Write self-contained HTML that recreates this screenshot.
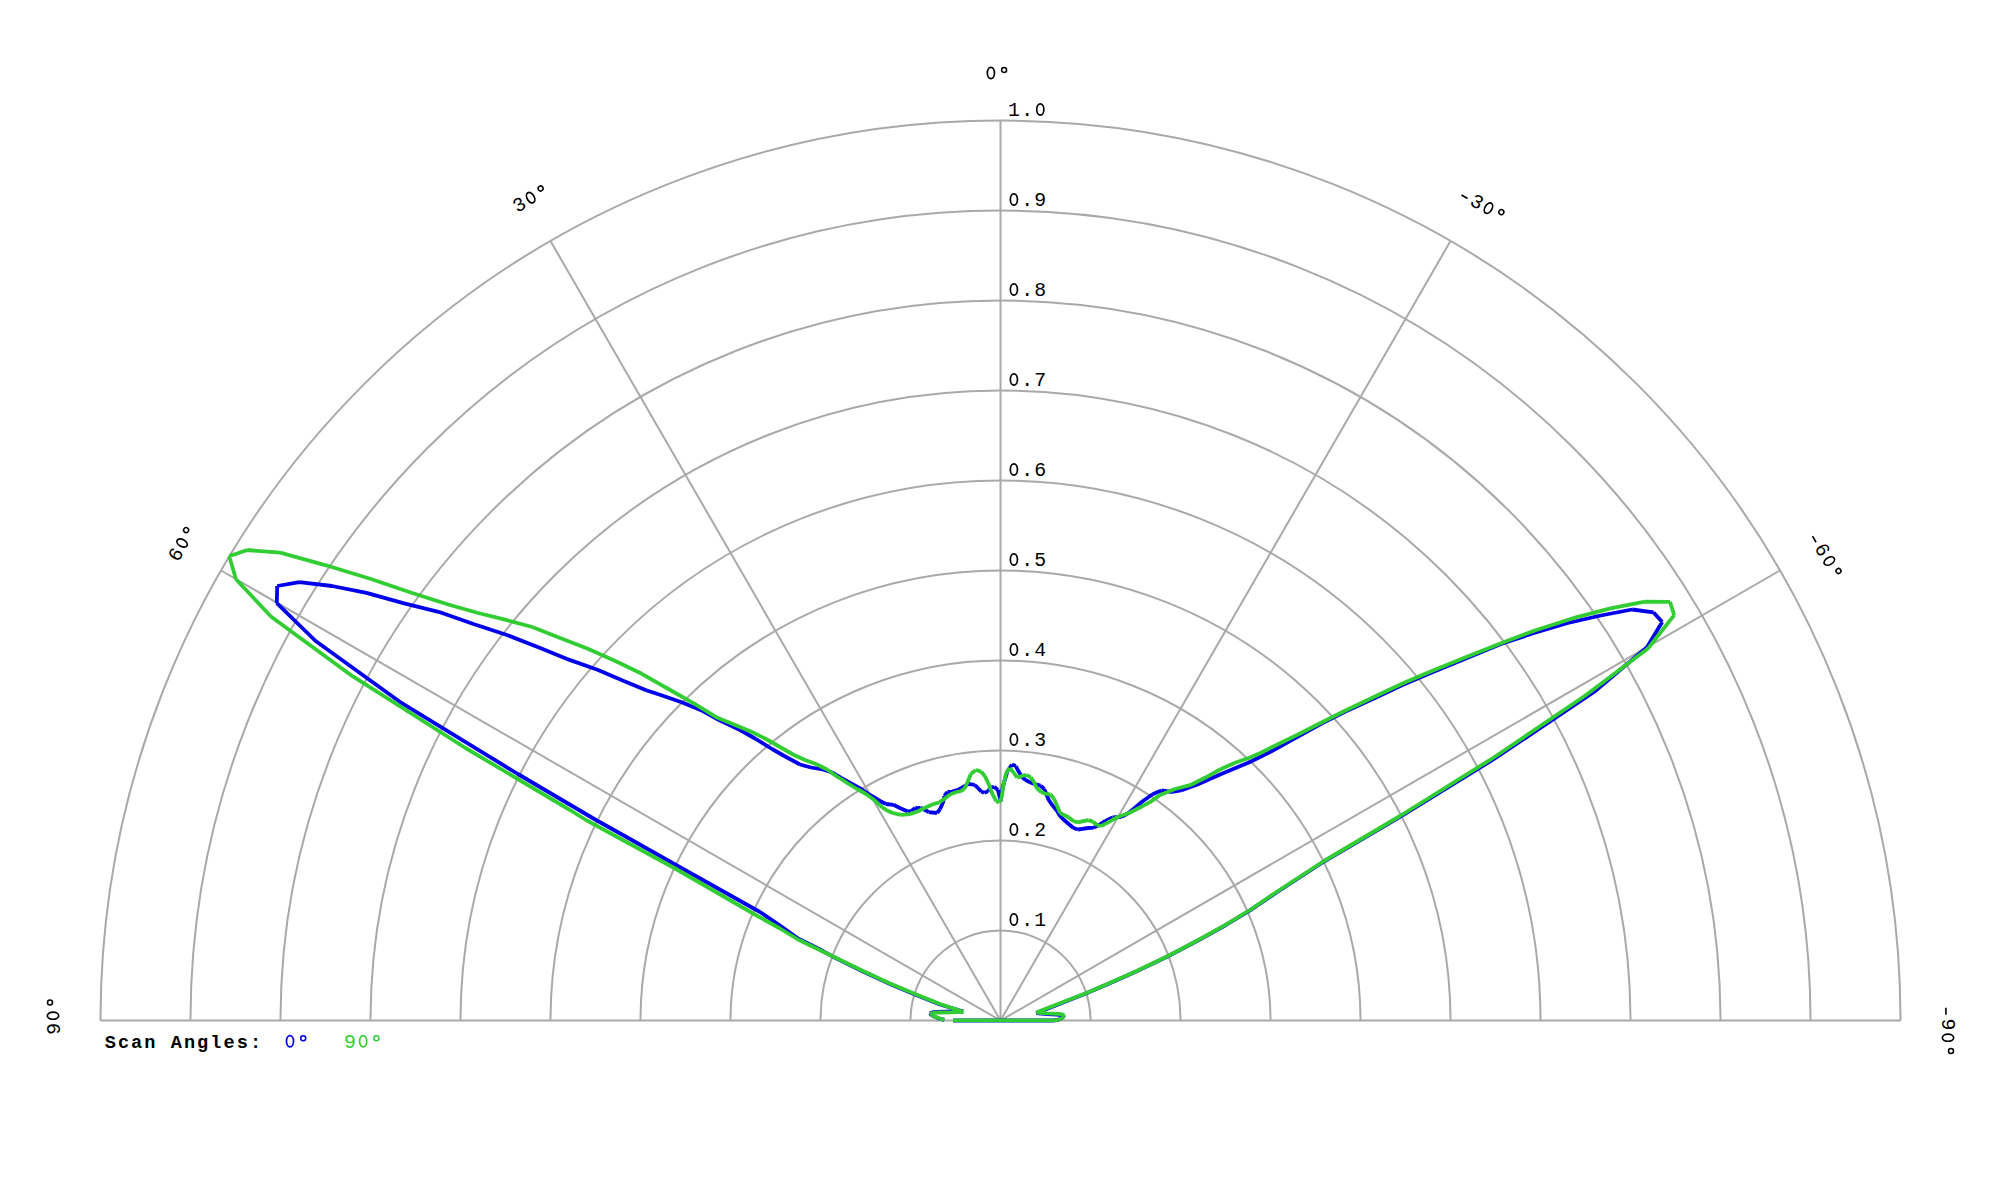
<!DOCTYPE html>
<html><head><meta charset="utf-8"><title>Polar plot</title>
<style>html,body{margin:0;padding:0;background:#fff;}svg{display:block;}text{font-family:"Liberation Mono",monospace;font-size:19.8px;fill:#000;}</style></head><body>
<svg width="2000" height="1200" viewBox="0 0 2000 1200">
<rect width="2000" height="1200" fill="#fff"/>
<g fill="none" stroke="#a9a9a9" stroke-width="2">
<path d="M910.5,1020.5 A90.0,90.0 0 0 1 1090.5,1020.5"/>
<path d="M820.5,1020.5 A180.0,180.0 0 0 1 1180.5,1020.5"/>
<path d="M730.5,1020.5 A270.0,270.0 0 0 1 1270.5,1020.5"/>
<path d="M640.5,1020.5 A360.0,360.0 0 0 1 1360.5,1020.5"/>
<path d="M550.5,1020.5 A450.0,450.0 0 0 1 1450.5,1020.5"/>
<path d="M460.5,1020.5 A540.0,540.0 0 0 1 1540.5,1020.5"/>
<path d="M370.5,1020.5 A630.0,630.0 0 0 1 1630.5,1020.5"/>
<path d="M280.5,1020.5 A720.0,720.0 0 0 1 1720.5,1020.5"/>
<path d="M190.5,1020.5 A810.0,810.0 0 0 1 1810.5,1020.5"/>
<path d="M100.5,1020.5 A900.0,900.0 0 0 1 1900.5,1020.5"/>
<line x1="100.5" y1="1020.5" x2="1900.5" y2="1020.5"/>
<line x1="1000.5" y1="1020.5" x2="1779.92" y2="570.50"/>
<line x1="1000.5" y1="1020.5" x2="1450.50" y2="241.08"/>
<line x1="1000.5" y1="1020.5" x2="1000.50" y2="120.50"/>
<line x1="1000.5" y1="1020.5" x2="550.50" y2="241.08"/>
<line x1="1000.5" y1="1020.5" x2="221.08" y2="570.50"/>
</g>
<ellipse cx="1013.90" cy="919.50" rx="3.55" ry="5.65" fill="none" stroke="#000" stroke-width="1.7"/><text y="926.00" text-anchor="middle" style="fill:#000"><tspan x="1027.10">.</tspan><tspan x="1040.30">1</tspan></text>
<ellipse cx="1013.90" cy="829.50" rx="3.55" ry="5.65" fill="none" stroke="#000" stroke-width="1.7"/><text y="836.00" text-anchor="middle" style="fill:#000"><tspan x="1027.10">.</tspan><tspan x="1040.30">2</tspan></text>
<ellipse cx="1013.90" cy="739.50" rx="3.55" ry="5.65" fill="none" stroke="#000" stroke-width="1.7"/><text y="746.00" text-anchor="middle" style="fill:#000"><tspan x="1027.10">.</tspan><tspan x="1040.30">3</tspan></text>
<ellipse cx="1013.90" cy="649.50" rx="3.55" ry="5.65" fill="none" stroke="#000" stroke-width="1.7"/><text y="656.00" text-anchor="middle" style="fill:#000"><tspan x="1027.10">.</tspan><tspan x="1040.30">4</tspan></text>
<ellipse cx="1013.90" cy="559.50" rx="3.55" ry="5.65" fill="none" stroke="#000" stroke-width="1.7"/><text y="566.00" text-anchor="middle" style="fill:#000"><tspan x="1027.10">.</tspan><tspan x="1040.30">5</tspan></text>
<ellipse cx="1013.90" cy="469.50" rx="3.55" ry="5.65" fill="none" stroke="#000" stroke-width="1.7"/><text y="476.00" text-anchor="middle" style="fill:#000"><tspan x="1027.10">.</tspan><tspan x="1040.30">6</tspan></text>
<ellipse cx="1013.90" cy="379.50" rx="3.55" ry="5.65" fill="none" stroke="#000" stroke-width="1.7"/><text y="386.00" text-anchor="middle" style="fill:#000"><tspan x="1027.10">.</tspan><tspan x="1040.30">7</tspan></text>
<ellipse cx="1013.90" cy="289.50" rx="3.55" ry="5.65" fill="none" stroke="#000" stroke-width="1.7"/><text y="296.00" text-anchor="middle" style="fill:#000"><tspan x="1027.10">.</tspan><tspan x="1040.30">8</tspan></text>
<ellipse cx="1013.90" cy="199.50" rx="3.55" ry="5.65" fill="none" stroke="#000" stroke-width="1.7"/><text y="206.00" text-anchor="middle" style="fill:#000"><tspan x="1027.10">.</tspan><tspan x="1040.30">9</tspan></text>
<ellipse cx="1040.30" cy="109.50" rx="3.55" ry="5.65" fill="none" stroke="#000" stroke-width="1.7"/><text y="116.00" text-anchor="middle" style="fill:#000"><tspan x="1013.90">1</tspan><tspan x="1027.10">.</tspan></text>
<g transform="translate(1000.5,1020.5) rotate(-90)"><ellipse cx="4.80" cy="-947.50" rx="3.55" ry="5.65" fill="none" stroke="#000" stroke-width="1.7"/><circle cx="18.00" cy="-950.50" r="2.5" fill="none" stroke="#000" stroke-width="1.5"/><text y="-941.00" text-anchor="middle" style="fill:#000"><tspan x="-8.40">9</tspan></text></g>
<g transform="translate(1000.5,1020.5) rotate(-60)"><ellipse cx="4.30" cy="-947.50" rx="3.55" ry="5.65" fill="none" stroke="#000" stroke-width="1.7"/><circle cx="17.50" cy="-950.50" r="2.5" fill="none" stroke="#000" stroke-width="1.5"/><text y="-941.00" text-anchor="middle" style="fill:#000"><tspan x="-8.90">6</tspan></text></g>
<g transform="translate(1000.5,1020.5) rotate(-30)"><ellipse cx="4.50" cy="-947.50" rx="3.55" ry="5.65" fill="none" stroke="#000" stroke-width="1.7"/><circle cx="17.70" cy="-950.50" r="2.5" fill="none" stroke="#000" stroke-width="1.5"/><text y="-941.00" text-anchor="middle" style="fill:#000"><tspan x="-8.70">3</tspan></text></g>
<g transform="translate(1000.5,1020.5) rotate(0)"><ellipse cx="-9.60" cy="-947.50" rx="3.55" ry="5.65" fill="none" stroke="#000" stroke-width="1.7"/><circle cx="3.60" cy="-950.50" r="2.5" fill="none" stroke="#000" stroke-width="1.5"/></g>
<g transform="translate(1000.5,1020.5) rotate(30)"><line x1="-13.50" y1="-945.40" x2="-6.50" y2="-945.40" stroke="#000" stroke-width="1.6"/><ellipse cx="16.40" cy="-947.50" rx="3.55" ry="5.65" fill="none" stroke="#000" stroke-width="1.7"/><circle cx="29.60" cy="-950.50" r="2.5" fill="none" stroke="#000" stroke-width="1.5"/><text y="-941.00" text-anchor="middle" style="fill:#000"><tspan x="3.20">3</tspan></text></g>
<g transform="translate(1000.5,1020.5) rotate(60)"><line x1="-13.40" y1="-945.40" x2="-6.40" y2="-945.40" stroke="#000" stroke-width="1.6"/><ellipse cx="16.50" cy="-947.50" rx="3.55" ry="5.65" fill="none" stroke="#000" stroke-width="1.7"/><circle cx="29.70" cy="-950.50" r="2.5" fill="none" stroke="#000" stroke-width="1.5"/><text y="-941.00" text-anchor="middle" style="fill:#000"><tspan x="3.30">6</tspan></text></g>
<g transform="translate(1000.5,1020.5) rotate(90)"><line x1="-12.70" y1="-945.40" x2="-5.70" y2="-945.40" stroke="#000" stroke-width="1.6"/><ellipse cx="17.20" cy="-947.50" rx="3.55" ry="5.65" fill="none" stroke="#000" stroke-width="1.7"/><circle cx="30.40" cy="-950.50" r="2.5" fill="none" stroke="#000" stroke-width="1.5"/><text y="-941.00" text-anchor="middle" style="fill:#000"><tspan x="4.00">9</tspan></text></g>
<text y="1047.70" text-anchor="middle" style="fill:#000;font-weight:bold;font-size:18.6px"><tspan x="110.30">S</tspan><tspan x="123.50">c</tspan><tspan x="136.70">a</tspan><tspan x="149.90">n</tspan><tspan x="176.30">A</tspan><tspan x="189.50">n</tspan><tspan x="202.70">g</tspan><tspan x="215.90">l</tspan><tspan x="229.10">e</tspan><tspan x="242.30">s</tspan><tspan x="255.50">:</tspan></text>
<ellipse cx="290.00" cy="1041.20" rx="3.55" ry="5.65" fill="none" stroke="#0000ea" stroke-width="1.7"/><circle cx="303.20" cy="1038.20" r="2.5" fill="none" stroke="#0000ea" stroke-width="1.5"/>
<ellipse cx="363.20" cy="1041.20" rx="3.55" ry="5.65" fill="none" stroke="#32cd32" stroke-width="1.7"/><circle cx="376.40" cy="1038.20" r="2.5" fill="none" stroke="#32cd32" stroke-width="1.5"/><text y="1047.70" text-anchor="middle" style="fill:#32cd32"><tspan x="350.00">9</tspan></text>
<g fill="none" stroke-width="3.8" stroke-linecap="butt">
<path stroke="#0000ea" d="M944.3,1019.9L939.3,1018.7M939.3,1018.7L934.2,1016.5M934.2,1016.5L931.2,1015.0M931.2,1015.0L930.0,1013.4M930.0,1013.4L932.0,1012.3M932.0,1012.3L936.0,1011.8M936.0,1011.8L945.0,1011.6M945.0,1011.6L963.2,1011.5M963.2,1011.5L940.0,1004.5M940.0,1004.5L915.0,994.5M915.0,994.5L890.0,984.0M890.0,984.0L863.0,971.5M863.0,971.5L832.0,956.2M832.0,956.2L820.0,949.5M820.0,949.5L798.0,938.5M798.0,938.5L780.0,925.5M780.0,925.5L760.0,912.0M760.0,912.0L676.0,865.0M676.0,865.0L630.0,839.0M630.0,839.0L596.0,820.0M596.0,820.0L579.0,810.0M579.0,810.0L517.0,773.5M517.0,773.5L399.8,701.8M399.8,701.8L315.6,641.0M315.6,641.0L276.8,603.2M276.8,603.2L277.2,586.0M277.2,586.0L299.3,582.2M299.3,582.2L332.0,586.0M332.0,586.0L366.5,592.8M366.5,592.8L403.2,603.2M403.2,603.2L438.5,611.8M438.5,611.8L474.2,624.3M474.2,624.3L507.0,635.0M507.0,635.0L540.2,647.9M540.2,647.9L569.5,659.9M569.5,659.9L597.5,669.8M597.5,669.8L623.8,681.0M623.8,681.0L645.5,690.0M645.5,690.0L665.8,696.8M665.8,696.8L683.0,702.8M683.0,702.8L701.0,710.2M701.0,710.2L719.0,720.0M719.0,720.0L740.0,730.0M740.0,730.0L755.0,738.5M755.0,738.5L772.0,749.0M772.0,749.0L787.0,757.5M787.0,757.5L800.0,764.5M800.0,764.5L811.0,767.5M811.0,767.5L823.0,769.5M823.0,769.5L832.0,772.5M832.0,772.5L842.0,778.5M842.0,778.5L852.0,784.0M852.0,784.0L862.0,789.5M862.0,789.5L870.0,795.0M870.0,795.0L880.0,801.0M880.0,801.0L886.0,804.0M886.0,804.0L893.5,804.8M893.5,804.8L901.0,808.5M901.0,808.5L907.8,811.5M907.8,811.5L911.5,810.8M911.5,810.8L915.2,808.1M915.2,808.1L920.5,807.8M920.5,807.8L925.0,810.0M925.0,810.0L928.8,812.2M928.8,812.2L937.0,813.0M937.0,813.0L940.0,809.2M940.0,809.2L943.0,802.5M943.0,802.5L944.5,795.8M944.5,795.8L947.5,792.0M947.5,792.0L952.0,791.6M952.0,791.6L958.0,789.8M958.0,789.8L963.2,786.8M963.2,786.8L968.5,783.8M968.5,783.8L974.5,784.9M974.5,784.9L978.2,788.2M978.2,788.2L981.2,791.6M981.2,791.6L984.2,792.8M984.2,792.8L988.0,791.2M988.0,791.2L991.0,787.5M991.0,787.5L994.0,786.8M994.0,786.8L997.8,789.8M997.8,789.8L1000.0,798.0M1000.0,798.0L1000.4,801.8M1000.4,801.8L1003.0,786.0M1003.0,786.0L1007.5,771.0M1007.5,771.0L1012.0,764.6M1012.0,764.6L1015.8,766.1M1015.8,766.1L1018.8,771.8M1018.8,771.8L1021.8,776.6M1021.8,776.6L1025.5,780.0M1025.5,780.0L1030.0,782.2M1030.0,782.2L1034.5,784.1M1034.5,784.1L1040.5,785.6M1040.5,785.6L1044.2,789.0M1044.2,789.0L1046.5,794.2M1046.5,794.2L1048.8,800.2M1048.8,800.2L1052.5,805.5M1052.5,805.5L1057.0,810.8M1057.0,810.8L1060.0,816.0M1060.0,816.0L1063.8,819.8M1063.8,819.8L1069.0,824.2M1069.0,824.2L1073.5,828.0M1073.5,828.0L1078.0,829.5M1078.0,829.5L1082.5,828.8M1082.5,828.8L1087.8,828.0M1087.8,828.0L1093.8,827.6M1093.8,827.6L1097.5,825.8M1097.5,825.8L1100.5,824.2M1100.5,824.2L1105.0,821.2M1105.0,821.2L1112.5,817.5M1112.5,817.5L1121.5,816.8M1121.5,816.8L1127.5,813.8M1127.5,813.8L1135.0,807.8M1135.0,807.8L1142.0,801.8M1142.0,801.8L1152.5,794.2M1152.5,794.2L1161.5,790.5M1161.5,790.5L1172.0,792.0M1172.0,792.0L1181.0,790.5M1181.0,790.5L1197.5,784.5M1197.5,784.5L1211.0,778.5M1211.0,778.5L1223.0,773.2M1223.0,773.2L1250.0,762.0M1250.0,762.0L1271.0,751.5M1271.0,751.5L1298.0,736.5M1298.0,736.5L1322.0,723.3M1322.0,723.3L1346.0,711.3M1346.0,711.3L1376.0,697.5M1376.0,697.5L1403.0,684.8M1403.0,684.8L1430.0,673.2M1430.0,673.2L1501.0,644.0M1501.0,644.0L1532.5,633.5M1532.5,633.5L1567.8,623.0M1567.8,623.0L1600.8,615.5M1600.8,615.5L1632.2,609.5M1632.2,609.5L1653.6,612.4M1653.6,612.4L1662.2,622.0M1662.2,622.0L1647.0,647.3M1647.0,647.3L1594.0,692.0M1594.0,692.0L1494.0,759.0M1494.0,759.0L1400.0,816.8M1400.0,816.8L1324.0,861.5M1324.0,861.5L1278.0,891.5M1278.0,891.5L1250.0,910.3M1250.0,910.3L1225.0,925.5M1225.0,925.5L1196.5,941.3M1196.5,941.3L1168.0,956.3M1168.0,956.3L1135.0,972.1M1135.0,972.1L1108.0,984.1M1108.0,984.1L1087.0,993.1M1087.0,993.1L1060.0,1003.8M1060.0,1003.8L1036.2,1013.2M1036.2,1013.2L1047.0,1014.0M1047.0,1014.0L1057.0,1014.5M1057.0,1014.5L1061.5,1015.0M1061.5,1015.0L1063.5,1015.8M1063.5,1015.8L1063.0,1017.0M1063.0,1017.0L1061.0,1018.5M1061.0,1018.5L1057.5,1019.9M1057.5,1019.9L1053.0,1020.5M1053.0,1020.5L953.0,1020.5"/>
<path stroke="#32cd32" d="M944.5,1019.8L939.5,1018.6M939.5,1018.6L934.4,1016.5M934.4,1016.5L931.5,1015.2M931.5,1015.2L930.5,1013.8M930.5,1013.8L933.0,1012.9M933.0,1012.9L938.0,1012.5M938.0,1012.5L950.0,1012.3M950.0,1012.3L963.5,1011.9M963.5,1011.9L940.0,1004.0M940.0,1004.0L915.0,994.0M915.0,994.0L890.0,983.5M890.0,983.5L863.0,971.0M863.0,971.0L832.0,956.0M832.0,956.0L798.0,939.5M798.0,939.5L780.0,928.5M780.0,928.5L754.0,914.0M754.0,914.0L676.0,869.0M676.0,869.0L586.0,820.0M586.0,820.0L570.0,810.0M570.0,810.0L465.5,748.0M465.5,748.0L352.5,676.2M352.5,676.2L271.2,616.8M271.2,616.8L236.0,579.2M236.0,579.2L229.2,556.3M229.2,556.3L247.2,550.0M247.2,550.0L280.2,552.7M280.2,552.7L326.0,565.3M326.0,565.3L370.2,578.8M370.2,578.8L412.2,593.0M412.2,593.0L448.2,604.5M448.2,604.5L478.2,613.0M478.2,613.0L500.0,618.3M500.0,618.3L532.2,627.0M532.2,627.0L560.8,638.2M560.8,638.2L587.8,648.8M587.8,648.8L614.8,660.8M614.8,660.8L641.8,673.8M641.8,673.8L670.2,690.0M670.2,690.0L695.0,704.2M695.0,704.2L717.5,717.8M717.5,717.8L734.0,724.5M734.0,724.5L740.0,727.0M740.0,727.0L752.0,732.0M752.0,732.0L766.0,739.0M766.0,739.0L780.0,747.0M780.0,747.0L793.0,754.5M793.0,754.5L805.0,760.0M805.0,760.0L816.0,764.0M816.0,764.0L827.0,769.5M827.0,769.5L837.0,776.5M837.0,776.5L848.0,783.5M848.0,783.5L857.0,789.0M857.0,789.0L866.0,794.0M866.0,794.0L875.0,800.5M875.0,800.5L880.0,805.5M880.0,805.5L886.0,810.0M886.0,810.0L892.8,813.0M892.8,813.0L901.0,814.9M901.0,814.9L910.0,814.1M910.0,814.1L917.5,811.5M917.5,811.5L925.0,807.8M925.0,807.8L932.5,804.4M932.5,804.4L939.2,802.5M939.2,802.5L944.5,798.8M944.5,798.8L950.5,794.2M950.5,794.2L956.5,792.0M956.5,792.0L961.0,791.2M961.0,791.2L964.8,788.2M964.8,788.2L967.8,781.5M967.8,781.5L970.8,774.0M970.8,774.0L976.0,769.9M976.0,769.9L981.2,771.8M981.2,771.8L985.0,776.2M985.0,776.2L988.8,784.5M988.8,784.5L992.5,794.2M992.5,794.2L996.2,801.0M996.2,801.0L999.2,802.5M999.2,802.5L1001.5,798.0M1001.5,798.0L1003.8,783.8M1003.8,783.8L1006.0,773.2M1006.0,773.2L1009.8,768.0M1009.8,768.0L1014.2,773.2M1014.2,773.2L1017.2,777.8M1017.2,777.8L1021.0,776.2M1021.0,776.2L1026.2,774.8M1026.2,774.8L1030.8,777.4M1030.8,777.4L1033.8,781.5M1033.8,781.5L1036.8,788.2M1036.8,788.2L1041.2,792.0M1041.2,792.0L1045.8,793.9M1045.8,793.9L1050.2,794.2M1050.2,794.2L1054.0,798.8M1054.0,798.8L1057.0,805.5M1057.0,805.5L1060.0,813.0M1060.0,813.0L1064.5,815.2M1064.5,815.2L1069.0,817.5M1069.0,817.5L1073.5,821.2M1073.5,821.2L1078.0,822.4M1078.0,822.4L1083.2,821.2M1083.2,821.2L1088.5,820.1M1088.5,820.1L1093.0,821.6M1093.0,821.6L1096.8,825.0M1096.8,825.0L1100.5,826.1M1100.5,826.1L1105.0,824.2M1105.0,824.2L1112.5,819.8M1112.5,819.8L1120.0,816.0M1120.0,816.0L1127.5,813.8M1127.5,813.8L1135.0,810.0M1135.0,810.0L1142.5,806.2M1142.5,806.2L1150.0,802.1M1150.0,802.1L1160.0,795.0M1160.0,795.0L1175.0,789.0M1175.0,789.0L1190.0,785.2M1190.0,785.2L1205.0,777.8M1205.0,777.8L1220.0,769.5M1220.0,769.5L1235.0,762.8M1235.0,762.8L1250.0,757.5M1250.0,757.5L1260.5,753.0M1260.5,753.0L1280.0,743.2M1280.0,743.2L1298.0,734.5M1298.0,734.5L1322.0,722.2M1322.0,722.2L1346.0,710.2M1346.0,710.2L1376.0,696.0M1376.0,696.0L1403.0,683.2M1403.0,683.2L1430.0,671.7M1430.0,671.7L1465.0,657.5M1465.0,657.5L1501.0,643.2M1501.0,643.2L1535.5,630.2M1535.5,630.2L1573.0,618.2M1573.0,618.2L1610.5,608.3M1610.5,608.3L1645.0,601.7M1645.0,601.7L1670.0,601.8M1670.0,601.8L1674.2,615.2M1674.2,615.2L1648.0,648.5M1648.0,648.5L1585.0,695.8M1585.0,695.8L1493.0,758.0M1493.0,758.0L1400.0,816.0M1400.0,816.0L1324.0,861.0M1324.0,861.0L1278.0,891.0M1278.0,891.0L1250.0,910.0M1250.0,910.0L1225.0,925.2M1225.0,925.2L1196.5,941.0M1196.5,941.0L1168.0,956.0M1168.0,956.0L1135.0,971.8M1135.0,971.8L1108.0,983.8M1108.0,983.8L1087.0,992.8M1087.0,992.8L1060.0,1003.2M1060.0,1003.2L1036.2,1012.6M1036.2,1012.6L1047.0,1013.3M1047.0,1013.3L1057.0,1013.8M1057.0,1013.8L1062.0,1014.2M1062.0,1014.2L1064.5,1015.0M1064.5,1015.0L1064.0,1016.5M1064.0,1016.5L1062.0,1018.2M1062.0,1018.2L1058.5,1019.8M1058.5,1019.8L1054.0,1020.4M1054.0,1020.4L953.0,1020.4"/>
</g></svg></body></html>
